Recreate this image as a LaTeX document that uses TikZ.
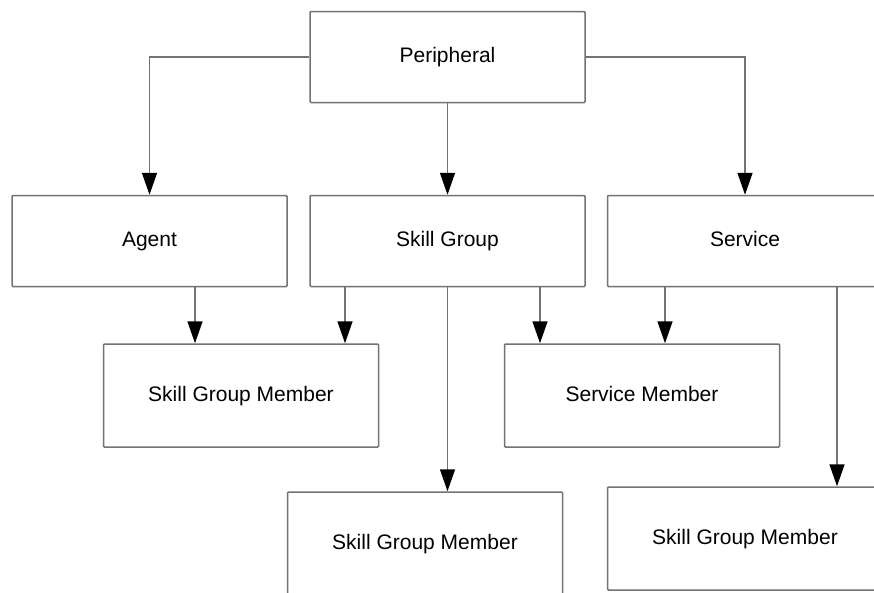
\documentclass[tikz,border=0pt]{standalone}
\usepackage{fontspec}
\setmainfont{Liberation Sans}
\usetikzlibrary{arrows.meta}

\begin{document}
\begin{tikzpicture}[x=1pt,y=-1pt,line width=1.5pt]
    \tikzstyle{box}=[rectangle, draw=black!55, fill=white, rounded corners=1pt, minimum width=275pt, inner sep=0pt, text height=15pt, text depth=4pt, font=\fontsize{21}{25}\selectfont]
    \tikzstyle{top box}=[box, minimum height=91pt]
    \tikzstyle{member box}=[box, minimum height=103pt]
    \tikzstyle{link}=[draw=black!55, -{Triangle[width=15pt,length=22pt,black]}]

    \useasboundingbox (0,0) rectangle (874,592);
    \clip (0,0) rectangle (874,592);

    % Draw the boxes
    \node[top box] (periph) at (447.5,57) {Peripheral};
    \node[top box] (agent) at (149.5,241) {Agent};
    \node[top box] (skill) at (447.5,241) {Skill Group};
    \node[top box] (service) at (745,241) {Service};
    \node[member box] (sgm-a) at (241,395.5) {Skill Group Member};
    \node[member box] (svcm) at (642,395.5) {Service Member};
    \node[member box] (sgm-b) at (425,543.5) {Skill Group Member};
    \node[member box] (sgm-c) at (745,538.5) {Skill Group Member};

    % Peripheral to the second row
    \draw[link] (periph.west) -| (agent.north);
    \draw[link] (periph.south) -- (skill.north);
    \draw[link] (periph.east) -| (service.north);

    % Second row to the members
    \foreach \from/\to/\x in {agent/sgm-a/195, skill/sgm-a/345, skill/sgm-b/447.5, skill/svcm/540, service/svcm/665, service/sgm-c/837}
        \draw[link] (\x,0 |- \from.south) -- (\x,0 |- \to.north);
\end{tikzpicture}
\end{document}
